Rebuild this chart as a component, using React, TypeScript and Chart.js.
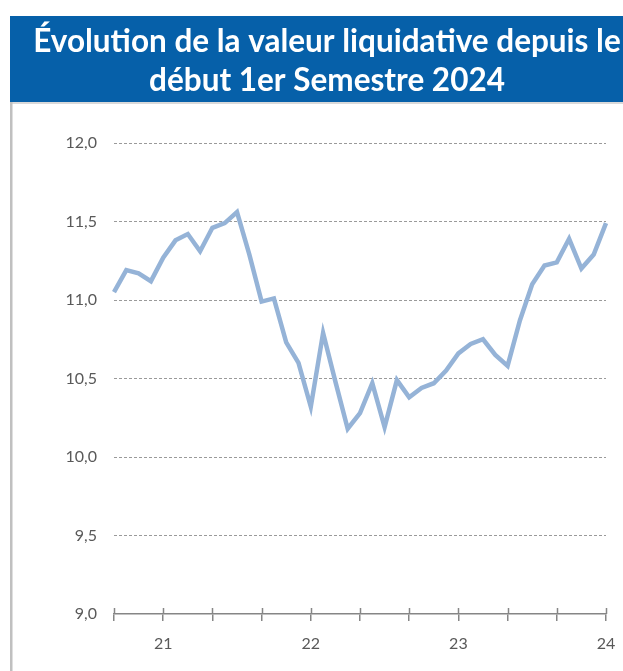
import React, { useEffect, useRef } from "react";
import { Chart, registerables } from "chart.js";

Chart.register(...registerables);

const titleLines = ["Évolution de la valeur liquidative depuis le", "début 1er Semestre 2024"];

const months = [
  "09/20", "10/20", "11/20", "12/20",
  "01/21", "02/21", "03/21", "04/21", "05/21", "06/21", "07/21", "08/21", "09/21", "10/21", "11/21", "12/21",
  "01/22", "02/22", "03/22", "04/22", "05/22", "06/22", "07/22", "08/22", "09/22", "10/22", "11/22", "12/22",
  "01/23", "02/23", "03/23", "04/23", "05/23", "06/23", "07/23", "08/23", "09/23", "10/23", "11/23", "12/23",
  "01/24",
];

const navValues = [
  11.05, 11.19, 11.17, 11.12,
  11.27, 11.38, 11.42, 11.31, 11.46, 11.49, 11.56, 11.29, 10.99, 11.01, 10.73, 10.6,
  10.32, 10.79, 10.48, 10.18, 10.28, 10.47, 10.19, 10.49, 10.38, 10.44, 10.47, 10.55,
  10.66, 10.72, 10.75, 10.65, 10.58, 10.87, 11.1, 11.22, 11.24, 11.39, 11.2, 11.29,
  11.49,
];

const yMin = 9;
const yMax = 12;
const yStep = 0.5;

const W = 634;
const H = 671;

const framePlugin = {
  id: "frameBand",
  beforeDraw(chart: any) {
    const ctx = chart.ctx;
    ctx.save();
    ctx.fillStyle = "#0660A9";
    ctx.fillRect(0, 16, chart.width, 86);
    ctx.fillStyle = "#D9D9D9";
    ctx.fillRect(0, 102, chart.width, 2);
    ctx.fillStyle = "#C0C0C0";
    ctx.fillRect(0, 102, 2.5, chart.height - 102);
    ctx.restore();
  },
  afterDraw(chart: any) {
    const xs = chart.scales.x;
    const ctx = chart.ctx;
    const bottom = chart.chartArea.bottom;
    ctx.save();
    ctx.strokeStyle = "#868686";
    ctx.lineWidth = 1.5;
    ctx.beginPath();
    for (let i = 0; i < months.length; i += 4) {
      const px = Math.round(xs.getPixelForTick(i)) + 0.5;
      ctx.moveTo(px, bottom - 6);
      ctx.lineTo(px, bottom);
    }
    ctx.stroke();
    ctx.restore();
  },
};

export default function App() {
  const ref = useRef<HTMLCanvasElement | null>(null);

  useEffect(() => {
    document.body.style.overflow = "hidden";
    const canvas = ref.current;
    if (!canvas) return;
    const chart = new Chart(canvas, {
      type: "line",
      data: {
        labels: months,
        datasets: [
          {
            data: navValues,
            borderColor: "#95B3D7",
            borderWidth: 4.5,
            pointRadius: 0,
            tension: 0,
            fill: false,
          },
        ],
      },
      options: {
        animation: false,
        responsive: false,
        devicePixelRatio: 1,
        layout: { padding: { left: 0, right: 0, top: 0, bottom: 0 } },
        plugins: {
          legend: { display: false },
          tooltip: { enabled: false },
          title: {
            display: true,
            text: titleLines,
            color: "#FFFFFF",
            font: { family: "Lato", weight: "bold", size: 31.5, lineHeight: "39px" },
            padding: { top: 22, bottom: 43 },
          },
        },
        scales: {
          x: {
            type: "category",
            offset: false,
            afterFit: (s: any) => {
              s.height = 57;
            },
            grid: {
              display: true,
              drawOnChartArea: false,
              drawTicks: true,
              tickLength: 7,
              lineWidth: 1.5,
              color: (c: any) => (c.index % 4 === 0 ? "#868686" : "rgba(0,0,0,0)"),
            },
            border: { display: true, color: "#868686", width: 1.5 },
            ticks: {
              autoSkip: false,
              maxRotation: 0,
              padding: 13,
              color: "#595959",
              font: { family: "Lato", size: 16 },
              callback: (_v: any, i: number) => (months[i].startsWith("01/") ? months[i].slice(3) : ""),
            },
          },
          y: {
            min: yMin,
            max: yMax,
            afterFit: (s: any) => {
              s.width = 104;
            },
            grid: {
              color: (c: any) => (c.tick && c.tick.value === yMin ? "rgba(0,0,0,0)" : "#9A9A9A"),
              lineWidth: 1,
              drawTicks: false,
            },
            border: { display: false, dash: [3, 2] },
            ticks: {
              stepSize: yStep,
              padding: 17,
              color: "#595959",
              font: { family: "Lato", size: 16 },
              callback: (v: any) => Number(v).toFixed(1).replace(".", ","),
            },
          },
          yRight: {
            type: "linear",
            position: "right",
            min: yMin,
            max: yMax,
            afterFit: (s: any) => {
              s.width = 38;
            },
            grid: { display: false, drawTicks: false },
            border: { display: false },
            ticks: { display: false },
          },
        },
      },
      plugins: [framePlugin],
    });
    return () => chart.destroy();
  }, []);

  return (
    <div style={{ position: "fixed", left: 10, top: 0, width: W, height: H }}>
      <canvas ref={ref} width={W} height={H} style={{ width: W, height: H, display: "block" }} />
    </div>
  );
}
